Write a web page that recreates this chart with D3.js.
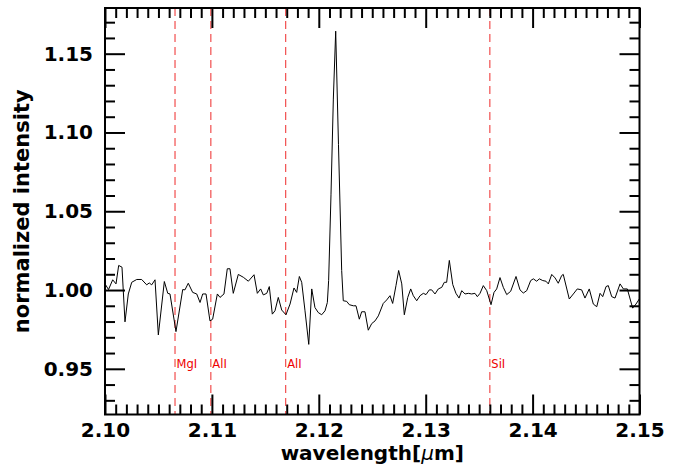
<!DOCTYPE html>
<html><head><meta charset="utf-8">
<script src="https://cdn.jsdelivr.net/npm/d3@7"></script>
<style>body{margin:0;background:#fff} svg{display:block}</style>
</head><body><svg id="c" width="680" height="464"></svg>
<script>
const wavelength = [2.10000,2.10033,2.10072,2.10103,2.10128,2.10159,2.10187,2.10218,2.10250,2.10297,
2.10343,2.10390,2.10414,2.10437,2.10468,2.10499,2.10555,2.10587,2.10608,2.10664,
2.10727,2.10748,2.10779,2.10820,2.10858,2.10889,2.10914,2.10945,2.10982,2.11007,
2.11051,2.11076,2.11113,2.11144,2.11169,2.11200,2.11247,2.11294,2.11341,2.11394,
2.11425,2.11456,2.11481,2.11513,2.11537,2.11565,2.11590,2.11621,2.11653,2.11693,
2.11731,2.11768,2.11793,2.11818,2.11840,2.11871,2.11906,2.11934,2.11964,2.11995,
2.12027,2.12058,2.12080,2.12092,2.12114,2.12136,2.12158,2.12184,2.12214,2.12229,
2.12261,2.12285,2.12323,2.12348,2.12379,2.12401,2.12432,2.12463,2.12495,2.12526,
2.12557,2.12603,2.12635,2.12666,2.12691,2.12722,2.12747,2.12776,2.12800,2.12832,
2.12860,2.12884,2.12916,2.12947,2.12978,2.13003,2.13034,2.13056,2.13087,2.13118,
2.13150,2.13174,2.13196,2.13221,2.13253,2.13283,2.13312,2.13337,2.13368,2.13399,
2.13430,2.13461,2.13483,2.13508,2.13539,2.13571,2.13611,2.13639,2.13664,2.13695,
2.13726,2.13758,2.13795,2.13845,2.13882,2.13913,2.13945,2.13982,2.14007,2.14038,
2.14063,2.14095,2.14125,2.14147,2.14179,2.14210,2.14240,2.14272,2.14287,2.14343,
2.14381,2.14418,2.14459,2.14490,2.14530,2.14568,2.14600,2.14631,2.14656,2.14687,
2.14708,2.14740,2.14771,2.14818,2.14849,2.14886,2.14936,2.14967,2.15000];
const intensity = [1.0039,1.0003,1.0065,1.0039,1.0156,1.0145,0.9798,0.9975,1.0049,1.0067,
1.0067,1.0033,1.0045,1.0033,1.0065,0.9715,1.0054,0.9979,0.9975,0.9736,
1.0003,1.0001,1.0043,0.9985,0.9975,0.9921,0.9975,0.9975,0.9804,0.9815,
0.9975,0.9953,0.9975,1.0135,1.0135,0.9979,1.0099,1.0081,1.0056,1.0097,
0.9979,1.0007,0.9969,0.9979,1.0022,0.9847,0.9868,0.9953,0.9873,0.9843,
0.9911,1.0013,0.9985,1.0086,1.0049,0.9868,0.9655,1.0007,0.9889,0.9857,
0.9843,0.9868,0.9921,1.0060,1.0604,1.1212,1.1643,1.0924,1.0124,0.9932,
0.9928,0.9907,0.9900,0.9900,0.9815,0.9862,0.9862,0.9745,0.9787,0.9804,
0.9836,0.9915,0.9937,0.9964,0.9915,1.0028,1.0124,1.0039,0.9843,0.9953,
1.0007,0.9964,0.9932,0.9964,0.9979,0.9971,1.0001,1.0001,0.9975,1.0007,
1.0017,1.0049,1.0049,1.0188,1.0035,0.9979,0.9949,0.9996,0.9975,0.9979,
0.9975,0.9979,0.9958,0.9979,1.0028,0.9996,0.9907,0.9985,1.0007,1.0079,
1.0017,0.9971,0.9992,1.0086,1.0001,0.9981,0.9996,1.0060,1.0071,1.0056,
1.0071,1.0060,1.0056,1.0039,1.0099,1.0077,1.0043,1.0092,1.0099,0.9943,
0.9975,1.0007,1.0001,0.9949,1.0007,0.9911,0.9894,0.9979,0.9958,1.0022,
1.0028,0.9958,0.9949,1.0039,1.0007,1.0007,0.9885,0.9911,0.9945];
const lineNames = ["MgI","AlI","AlI","SiI"];
const lineWavelengths = [2.10655,2.10990,2.11690,2.13600];
const xTickValues = [2.10,2.11,2.12,2.13,2.14,2.15];
const xTickLabels = ["2.10","2.11","2.12","2.13","2.14","2.15"];
const yTickValues = [0.95,1.00,1.05,1.10,1.15];
const yTickLabels = ["0.95","1.00","1.05","1.10","1.15"];

const svg = d3.select("#c");
const L = 105, R = 639.5, T = 8, B = 414.5;
const x = d3.scaleLinear().domain([2.10, 2.15]).range([L, R]);
const y = d3.scaleLinear().domain([0.921, 1.179]).range([B, T]);
const FONT = "'DejaVu Sans', sans-serif";

svg.append("defs").append("clipPath").attr("id","clip")
  .append("rect").attr("x",L).attr("y",T).attr("width",R-L).attr("height",B-T);

// reference lines
const refs = svg.append("g");
lineWavelengths.forEach((w,i) => {
  refs.append("line").attr("x1",x(w)).attr("x2",x(w)).attr("y1",T).attr("y2",B)
    .attr("stroke","#f03030").attr("stroke-width",1.2).attr("stroke-dasharray","8,5").attr("opacity",0.85);
  refs.append("text").attr("x",x(w)+1.5).attr("y",y(0.9505))
    .attr("font-family",FONT).attr("font-size",11.5).attr("fill","#ee0000").text(lineNames[i]);
});

// spectrum
const pts = wavelength.map((w,i)=>[w,intensity[i]]);
svg.append("path").datum(pts).attr("clip-path","url(#clip)")
  .attr("fill","none").attr("stroke","#000").attr("stroke-width",1)
  .attr("stroke-linejoin","round")
  .attr("d", d3.line().x(d=>x(d[0])).y(d=>y(d[1])));

// minor tick values
const xMinor = d3.range(1,50).map(i=>2.10+i*0.001).filter((v,i)=>(i+1)%10!==0);
const yMinor = d3.range(93,118).map(i=>i/100).filter(v=>Math.round(v*100)%5!==0);

function styleAxis(g){
  g.select(".domain").remove();
  g.selectAll(".tick line").attr("stroke","#000").attr("stroke-width",2);
  g.selectAll("text").attr("font-family",FONT).attr("font-size",20).attr("font-weight","bold").attr("fill","#000");
}
// bottom
svg.append("g").attr("transform",`translate(0,${B})`)
  .call(d3.axisBottom(x).tickValues(xTickValues).tickFormat((d,i)=>xTickLabels[i]).tickSize(-20).tickPadding(8.5))
  .call(styleAxis);
svg.append("g").attr("transform",`translate(0,${B})`)
  .call(d3.axisBottom(x).tickValues(xMinor).tickFormat("").tickSize(-10)).call(styleAxis);
// top
svg.append("g").attr("transform",`translate(0,${T})`)
  .call(d3.axisTop(x).tickValues(xTickValues).tickFormat("").tickSize(-20)).call(styleAxis);
svg.append("g").attr("transform",`translate(0,${T})`)
  .call(d3.axisTop(x).tickValues(xMinor).tickFormat("").tickSize(-10)).call(styleAxis);
// left
svg.append("g").attr("transform",`translate(${L},0)`)
  .call(d3.axisLeft(y).tickValues(yTickValues).tickFormat((d,i)=>yTickLabels[i]).tickSize(-20).tickPadding(12))
  .call(styleAxis);
svg.append("g").attr("transform",`translate(${L},0)`)
  .call(d3.axisLeft(y).tickValues(yMinor).tickFormat("").tickSize(-10)).call(styleAxis);
// right
svg.append("g").attr("transform",`translate(${R},0)`)
  .call(d3.axisRight(y).tickValues(yTickValues).tickFormat("").tickSize(-20)).call(styleAxis);
svg.append("g").attr("transform",`translate(${R},0)`)
  .call(d3.axisRight(y).tickValues(yMinor).tickFormat("").tickSize(-10)).call(styleAxis);

// frame
svg.append("rect").attr("x",L).attr("y",T).attr("width",R-L).attr("height",B-T)
  .attr("fill","none").attr("stroke","#000").attr("stroke-width",2);

// axis titles
const xl = svg.append("text").attr("x",(L+R)/2).attr("y",460).attr("text-anchor","middle")
  .attr("font-family",FONT).attr("font-size",20).attr("font-weight","bold");
xl.append("tspan").text("wavelength[");
xl.append("tspan").attr("font-style","italic").attr("font-weight","normal").text("μ");
xl.append("tspan").text("m]");
svg.append("text").attr("transform",`translate(29,${(T+B)/2}) rotate(-90)`).attr("text-anchor","middle")
  .attr("font-family",FONT).attr("font-size",21).attr("font-weight","bold").text("normalized intensity");
</script></body></html>
